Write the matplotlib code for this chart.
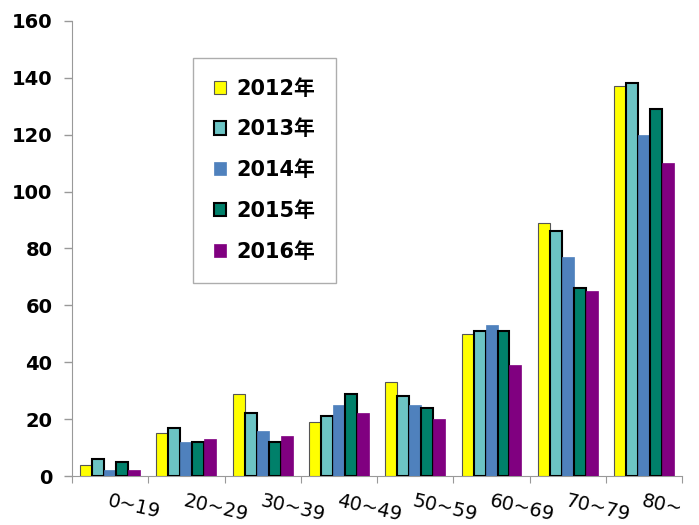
import numpy as np
import matplotlib.pyplot as plt

plt.rcParams['font.family'] = ['DejaVu Sans', 'Noto Sans CJK JP']

groups = ['0~19', '20~29', '30~39', '40~49', '50~59', '60~69', '70~79', '80~']
years = ['2012年', '2013年', '2014年', '2015年', '2016年']
v2012 = [4, 15, 29, 19, 33, 50, 89, 137]
v2013 = [6, 17, 22, 21, 28, 51, 86, 138]
v2014 = [2, 12, 16, 25, 25, 53, 77, 120]
v2015 = [5, 12, 12, 29, 24, 51, 66, 129]
v2016 = [2, 13, 14, 22, 20, 39, 65, 110]

series = [v2012, v2013, v2014, v2015, v2016]
colors = ['#ffff00', '#6cc4c4', '#4f81bd', '#00806a', '#800080']
edges = ['#555555', '#000000', '#4f81bd', '#000000', '#800080']
lws = [0.8, 1.5, 0.5, 1.5, 0.5]

fig = plt.figure(figsize=(6.99, 5.25), dpi=100)
ax = fig.add_axes([0.103, 0.0933, 0.873, 0.867])

x = np.arange(len(groups)) + 0.5
w = 0.157
for i, vals in enumerate(series):
    ax.bar(x + (i - 2) * w, vals, width=w, color=colors[i], edgecolor=edges[i],
           linewidth=lws[i], label=years[i], zorder=3)

ax.set_xlim(0, len(groups))
ax.set_ylim(0, 160)
ax.set_yticks(range(0, 161, 20))
ax.tick_params(axis='y', length=6, width=1, color='#999999', labelsize=14, pad=8)
for t in ax.get_yticklabels():
    t.set_fontweight('bold')

ax.set_xticks(range(len(groups) + 1))
ax.set_xticklabels([])
ax.tick_params(axis='x', which='major', length=5, color='#999999', direction='out')
ax.set_xticks(x, minor=True)
ax.set_xticklabels(groups, minor=True, rotation=-13, ha='left', rotation_mode='anchor',
                   fontsize=14)
ax.tick_params(axis='x', which='minor', length=0, pad=11)

for s in ['top', 'right']:
    ax.spines[s].set_visible(False)
for s in ['left', 'bottom']:
    ax.spines[s].set_color('#999999')

leg = ax.legend(loc='upper left', bbox_to_anchor=(0.198, 0.919), borderaxespad=0,
                fancybox=False, edgecolor='#999999', fontsize=15, handlelength=0.6,
                handleheight=0.6, labelspacing=1.0, borderpad=1.0, handletextpad=0.5)
for t in leg.get_texts():
    t.set_fontweight('bold')

fig.savefig('out.png', dpi=100)
